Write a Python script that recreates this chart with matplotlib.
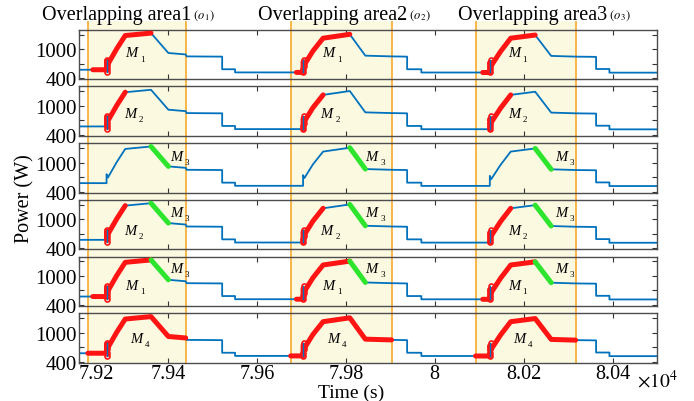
import matplotlib
matplotlib.use("Agg")
import matplotlib.pyplot as plt
import numpy as np

plt.rcParams["font.family"] = ["Liberation Serif", "DejaVu Serif"]
plt.rcParams["mathtext.fontset"] = "stix"

# base power trace, breakpoints (time in s, power in W)
time_s = [79200, 79220, 79231, 79262, 79262, 79265, 79285, 79304, 79362, 79401, 79440, 79442,
          79522, 79522, 79551, 79551,
          79676, 79689, 79704, 79704, 79707, 79726, 79749, 79809, 79844, 79903, 79938, 79938,
          79970, 79970,
          80092, 80108, 80124, 80124, 80127, 80148, 80171, 80226, 80262, 80317, 80363, 80363,
          80393, 80393, 80500]
power_w = [575, 575, 575, 575, 760, 690, 1010, 1280, 1330, 920, 890, 850,
           845, 585, 585, 520,
           520, 520, 520, 740, 680, 960, 1225, 1305, 865, 850, 845, 585,
           585, 518,
           518, 518, 518, 725, 655, 950, 1225, 1290, 860, 845, 840, 590,
           590, 515, 515]

# per-cycle landmarks (s)
area_start = [79220, 79676, 80092]
area_end = [79440, 79903, 80317]
m1_start = [79231, 79689, 80108]
step_t = [79262, 79704, 80124]
rise_end = [79304, 79749, 80171]
peak_t = [79362, 79809, 80226]
drop_end = [79401, 79844, 80262]

# switching-point markers at each step
dot_dt = [0, 0, 1, 1, 2]
dot_p = [525, 590, 655, 720, 785]

# which modes are highlighted in each row
row_modes = [["M1"], ["M2"], ["M3"], ["M2", "M3"], ["M1", "M3"], ["M4"]]
# label power level per row/mode
row_label_p = [{"M1": 920}, {"M2": 840}, {"M3": 1130},
               {"M2": 770, "M3": 1130}, {"M1": 800, "M3": 1150}, {"M4": 880}]
label_t = {"M1": [79317, 79760, 80178], "M2": [79315, 79757, 80178],
           "M3": [79418, 79858, 80284], "M4": [79328, 79772, 80190]}

xticks = [79200, 79400, 79600, 79800, 80000, 80200, 80400]
xticklabels = ["7.92", "7.94", "7.96", "7.98", "8", "8.02", "8.04"]
yticks = [400, 700, 1000, 1300]
yticklabels = ["400", "", "1000", ""]

BLUE = "#0072BD"
RED = "#ff1414"
GREEN = "#2ee52e"
ORANGE = "#f5a31a"
CREAM = "#fcf9e1"

W, H = 694, 402
fig = plt.figure(figsize=(W / 100, H / 100), dpi=100)

left, right = 79, 657
ax_w = (right - left) / W

t = np.array(time_s)
p = np.array(power_w)

# shaded overlapping areas, spanning all rows and the title strip
bg = fig.add_axes([left / W, 1 - 364 / H, ax_w, (364 - 22) / H], zorder=0)
bg.set_xlim(79200, 80500)
bg.axis("off")
for a, b in zip(area_start, area_end):
    bg.axvspan(a, b, color=CREAM, lw=0)
    bg.axvline(a, color=ORANGE, lw=1.1)
    bg.axvline(b, color=ORANGE, lw=1.1)

seg = {"M1": (m1_start, peak_t, RED), "M2": (step_t, rise_end, RED),
       "M3": (peak_t, drop_end, GREEN), "M4": (area_start, area_end, RED)}

top0, pitch, h = 30.7, 56.7, 49.5
for i, modes in enumerate(row_modes):
    top = top0 + i * pitch
    ax = fig.add_axes([left / W, 1 - (top + h) / H, ax_w, h / H], zorder=1)
    ax.set_facecolor("none")
    ax.plot(t, p, color=BLUE, lw=1.3, zorder=2)
    for m in modes:
        a_list, b_list, col = seg[m]
        for a, b in zip(a_list, b_list):
            sel = (t >= a) & (t <= b)
            ax.plot(t[sel], p[sel], color=col, lw=3.6, solid_capstyle="round",
                    solid_joinstyle="round", zorder=3)
    if modes != ["M3"]:
        for s in step_t:
            ax.plot([s + d for d in dot_dt], dot_p, "o", ms=3.6, mfc="none",
                    mec=RED, mew=1.2, zorder=4)
            ax.plot([s, s], [dot_p[0], dot_p[-1]], color=BLUE, lw=1.0, zorder=5)
    for m in modes:
        for k, tx in enumerate(label_t[m]):
            py = row_label_p[i][m]
            ax.text(tx, py, "M", style="italic", fontsize=10.5, ha="center",
                    va="center", zorder=5)
            ax.annotate(m[1], (tx, py), xytext=(8, -4), textcoords="offset points",
                        fontsize=6.5, ha="center", va="center", zorder=5)
    ax.set_xlim(79200, 80500)
    ax.set_ylim(380, 1400)
    ax.set_yticks(yticks)
    ax.set_yticklabels(yticklabels)
    ax.set_xticks(xticks)
    ax.tick_params(direction="in", top=True, right=True, length=3.5, width=0.8,
                   color="#333333", labelsize=15, pad=1.5)
    if i == len(row_modes) - 1:
        ax.set_xticklabels(xticklabels)
        ax.tick_params(axis="x", labelsize=14.5, pad=1)
        ax.get_xticklabels()[0].set_ha("left")
    else:
        ax.tick_params(axis="x", labelbottom=False)
    for sp in ax.spines.values():
        sp.set_color("#4d4d4d")
        sp.set_linewidth(1.0)

# area titles
for x0, n in zip([42, 258, 458], ["1", "2", "3"]):
    txt = fig.text(x0 / W, 1 - 20 / H, "Overlapping area" + n, fontsize=14.5,
                   va="baseline", ha="left")
    fig.canvas.draw()
    bb = txt.get_window_extent()
    fig.text((bb.x1 + 2) / W, 1 - 19 / H, r"$(o_{\,%s})$" % n, fontsize=9,
             va="baseline", ha="left")

fig.text(25 / W, 1 - 199 / H, "Power (W)", rotation=90, fontsize=14.5,
         ha="center", va="center")
fig.text(351 / W, 1 - 393 / H, "Time (s)", fontsize=14, ha="center", va="center")
fig.text(637 / W, 1 - 388 / H, r"$\times10^{4}$", fontsize=14, ha="left",
         va="baseline")

fig.savefig("out.png", dpi=100)
